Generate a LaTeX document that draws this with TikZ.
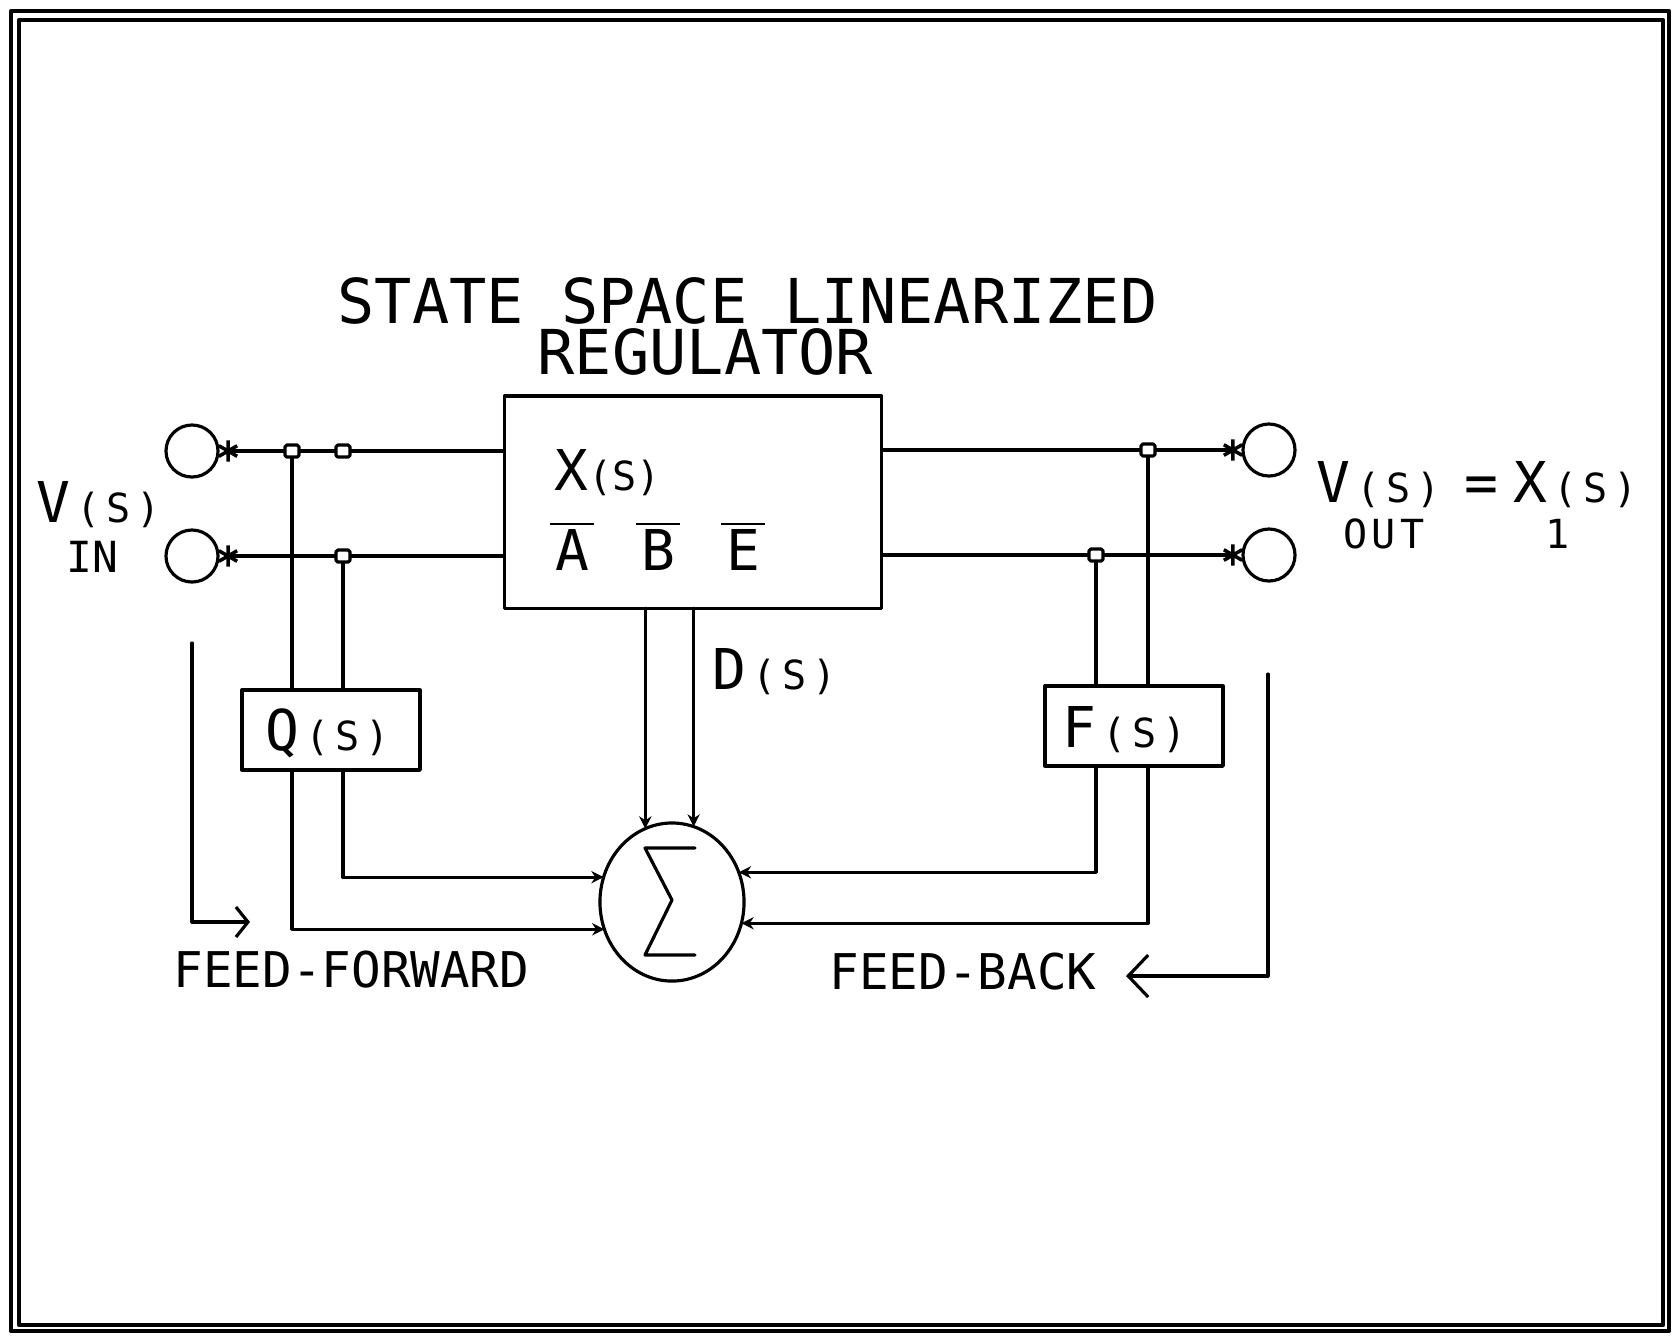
\documentclass[tikz,border=0pt]{standalone}
\usepackage{fontspec}
\setmainfont{DejaVu Sans Mono}
\usetikzlibrary{arrows.meta, shapes.geometric}
\newcommand\smtxt[1]{{\fontsize{11.4}{13}\selectfont #1}}
\newcommand\sarg{{\fontsize{11.4}{13}\selectfont\kern1.7pt(\kern1.7pt S\kern1.7pt)}}
\newcommand\ovl[1]{$\overline{\hbox{\kern1.5pt #1\kern1.5pt}}$}

\begin{document}
\begin{tikzpicture}[x=0.01cm, y=-0.01cm, line width=0.9pt, line join=round, line cap=round,
  big/.style={font=\fontsize{16}{18}\selectfont, inner sep=0pt},
  small/.style={font=\fontsize{11.4}{13}\selectfont, inner sep=0pt},
  blk/.style={draw, outer sep=0pt},
  term/.style={draw, circle, minimum size=0.52cm, inner sep=0pt, outer sep=0pt},
  jn/.style={draw, fill=white, rectangle, rounded corners=0.5pt, minimum width=0.14cm, minimum height=0.12cm, inner sep=0pt},
  tip/.style={-{Stealth[length=3.5pt, width=3.5pt]}},
  termln/.style={-{Rays[n=6, length=6pt, line width=1pt]}},
  barb/.style={-{Straight Barb[length=0.12cm, width=0.3cm]}},
  bigbarb/.style={-{Straight Barb[length=0.2cm, width=0.42cm]}}]
\useasboundingbox (0,0) rectangle (1673,1335);
% sheet border
\draw[line width=1.3pt] (11,11) rectangle (1669,1331);
\draw[line width=1.3pt] (19,20) rectangle (1663,1325);
% title
\node[font=\fontsize{17.6}{14.5}\selectfont, inner sep=0pt, align=left, anchor=north west] (ttl) at (336,276)
  {STATE SPACE LINEARIZED\\\hspace*{2cm}REGULATOR};
% blocks
\node[blk, minimum width=3.77cm, minimum height=2.12cm] (reg) at (693,502) {};
\node[blk, minimum width=1.78cm, minimum height=0.80cm] (Q) at (331,730) {};
\node[blk, minimum width=1.78cm, minimum height=0.80cm] (F) at (1134,726) {};
\node[big, anchor=base west] (qs) at (264,750) {Q\sarg};
\node[big, anchor=base west] (fs) at (1061,747) {F\sarg};
\node[draw, ellipse, minimum width=1.44cm, minimum height=1.58cm, inner sep=0pt, outer sep=0pt] (sig) at (672,902) {};
\draw[shift={(sig.center)}] (23,-54) -- (-27,-54) -- (0,-2) -- (-27,53) -- (23,53);
% texts in the regulator
\node[big, anchor=base west] (xs) at (553,490) {X\smtxt{(S)}};
\node[big, anchor=base] (mA) at (572,570) {\ovl{A}};
\node[big, anchor=base] (mB) at (658,570) {\ovl{B}};
\node[big, anchor=base] (mE) at (743,570) {\ovl{E}};
% terminals
\node[term] (inA) at (192,451) {};
\node[term] (inB) at (192,556) {};
\node[term] (outA) at (1269,450) {};
\node[term] (outB) at (1269,555) {};
\node[big, anchor=base west] (vin) at (35,522) {V\sarg};
\node[anchor=base west, inner sep=0pt, font=\fontsize{12.2}{14}\selectfont] (lin) at (65,572) {IN};
\node[big, anchor=base west] (vout) at (1315,502) {V\sarg\kern6.8pt=\kern4.3pt X\sarg};
\node[small, anchor=base west] (lout) at (1342,548) {O\kern1.2pt U\kern1.2pt T};
\node[small, anchor=base] (lone) at (1558,548) {1};
\node[big, anchor=base west] (ds) at (711,689) {D\sarg};
% signal lines
\draw[termln] (reg.west |- inA) -- (inA);
\draw[termln] (reg.west |- inB) -- (inB);
\draw[termln] (reg.east |- outA) -- (outA);
\draw[termln] (reg.east |- outB) -- (outB);
\node[jn] (j1) at (292,451) {};
\node[jn] (j2) at (343,451) {};
\node[jn] (j3) at (343,556) {};
\node[jn] (j4) at (1148,450) {};
\node[jn] (j5) at (1096,555) {};
\draw (j1.south) -- (j1 |- Q.north);
\draw (j3.south) -- (j3 |- Q.north);
\draw (j4.south) -- (j4 |- F.north);
\draw (j5.south) -- (j5 |- F.north);
% into the summer
\draw[tip] (Q.south -| j1) |- (sig.202);
\draw[tip] (Q.south -| j3) |- (sig.160);
\draw[tip] (F.south -| j5) |- (sig.24);
\draw[tip] (F.south -| j4) |- (sig.343);
\draw[tip] (reg.south -| sig.110) -- (sig.110);
\draw[tip] (reg.south -| sig.74) -- (sig.74);
% feed arrows
\coordinate (ff1) at (192,643);
\coordinate (ff2) at (250,922);
\draw[barb] (ff1) |- (ff2);
\node[anchor=base west, inner sep=0pt, font=\fontsize{14}{16}\selectfont] (lff) at (172,987) {FEED-FORWARD};
\coordinate (fb1) at (1268,674);
\coordinate (fb2) at (1126,976);
\draw[bigbarb] (fb1) |- (fb2);
\node[anchor=base west, inner sep=0pt, font=\fontsize{14}{16}\selectfont] (lfb) at (828,989) {FEED-BACK};
\end{tikzpicture}
\end{document}
